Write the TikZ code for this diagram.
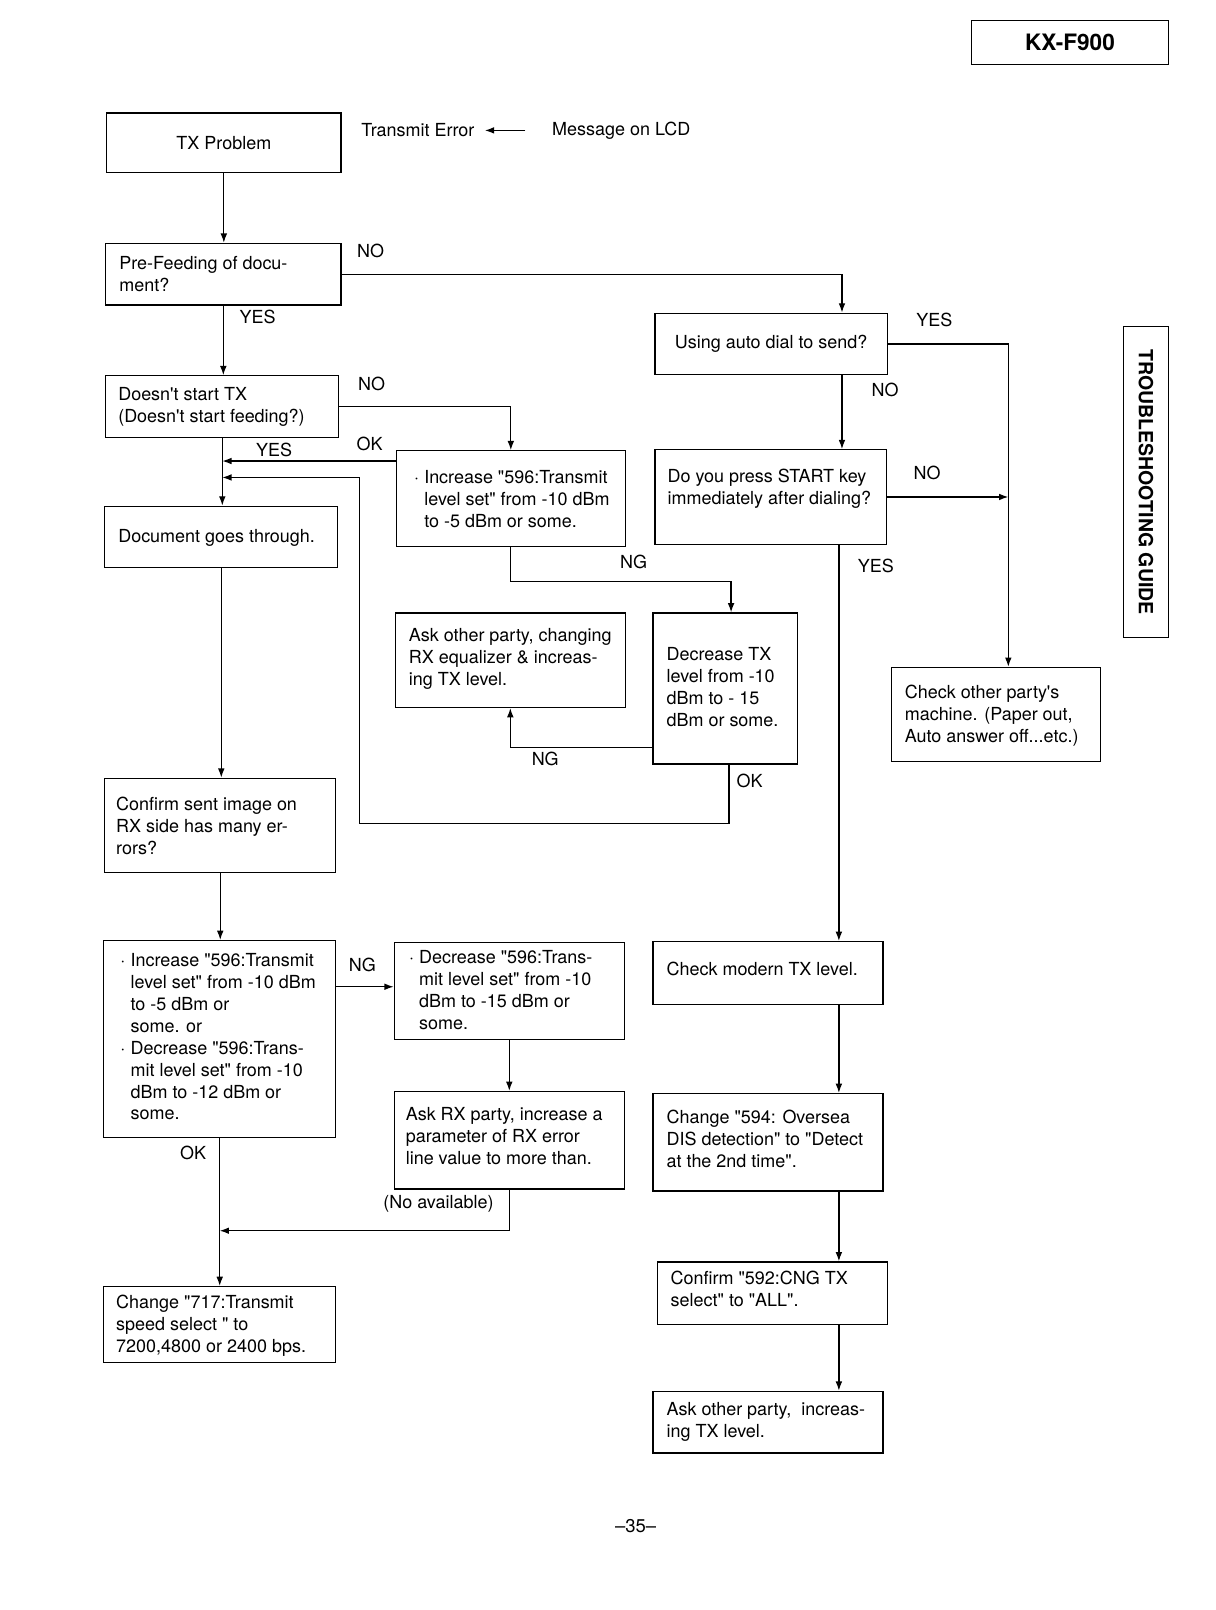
\documentclass[tikz,border=0pt]{standalone}
\usepackage{fontspec}
\setmainfont{TeX Gyre Heros}[Ligatures=TeXOff]
\usetikzlibrary{arrows.meta,calc}
\tikzset{
  box/.style={draw, line width=1.2pt, inner sep=0pt, font=\fontsize{17.5}{21.4}\selectfont},
  txt/.style={font=\fontsize{17.5}{21.4}\selectfont, align=left, inner sep=0pt, anchor=north west},
  lbl/.style={font=\fontsize{17.5}{21.4}\selectfont, inner sep=0pt},
  arr/.style={line width=1.2pt, -{Latex[length=9pt,width=6.5pt]}},
}
\begin{document}
\begin{tikzpicture}[x=1pt,y=-1pt]
\useasboundingbox (0,0) rectangle (1184,1568);
\fill[white] (0,0) rectangle (1184,1568);

% header
\node[box, minimum width=192pt, minimum height=43pt, font=\fontsize{22}{26}\selectfont\bfseries] (kx) at (1042,41.5) {KX-F900};
\node[box, minimum width=303pt, minimum height=44pt, rotate=-90, font=\fontsize{19}{22}\selectfont\bfseries] (tsg) at (1116,469.5) {TROUBLESHOOTING GUIDE};
\node[lbl] (te) at (407,127) {Transmit Error};
\node[lbl] (msg) at (605,127) {Message on LCD};
\draw[arr, shorten <=26pt, shorten >=10pt] (msg.west) -- (te.east);

% left column
\node[box, minimum width=228pt, minimum height=58pt] (txp) at (218,139) {TX Problem};
\node[box, minimum width=229pt, minimum height=60pt] (pre) at (217.5,267) {};
\node[txt] (pret) at (116,249) {Pre-Feeding of docu-\\ment?};
\node[box, minimum width=227pt, minimum height=60pt] (dst) at (216.5,396) {};
\node[txt] (dstt) at (115,377) {Doesn't start TX\\(Doesn't start feeding?)};
\node[box, minimum width=223pt, minimum height=93pt] (inc1) at (497.5,485.5) {};
\node[txt] (inc1t) at (413,458) {\llap{·\hspace{5pt}}Increase "596:Transmit\\level set" from -10 dBm\\to -5 dBm or some.};
\node[box, minimum width=227pt, minimum height=60pt] (doc) at (215.5,523) {};
\node[txt] (doct) at (115,515) {Document goes through.};
\node[box, minimum width=224pt, minimum height=92pt] (ask1) at (497,643) {};
\node[txt] (ask1t) at (398,612) {Ask other party, changing\\RX equalizer \& increas-\\ing TX level.};
\node[box, minimum width=141pt, minimum height=147pt] (dec1) at (706.5,670.5) {};
\node[txt] (dec1t) at (649,630) {Decrease TX\\level from -10\\dBm to - 15\\dBm or some.};
\node[box, minimum width=225pt, minimum height=92pt] (conf) at (214.5,804) {};
\node[txt] (conft) at (113,776) {Confirm sent image on\\RX side has many er-\\rors?};
\node[box, minimum width=226pt, minimum height=192pt] (inc2) at (214,1012) {};
\node[txt] (inc2t) at (127,928) {\llap{·\hspace{5pt}}Increase "596:Transmit\\level set" from -10 dBm\\to -5 dBm or\\some. or\\\llap{·\hspace{5pt}}Decrease "596:Trans-\\mit level set" from -10\\dBm to -12 dBm or\\some.};
\node[box, minimum width=224pt, minimum height=94pt] (dec2) at (496,965) {};
\node[txt] (dec2t) at (408,925) {\llap{·\hspace{5pt}}Decrease "596:Trans-\\mit level set" from -10\\dBm to -15 dBm or\\some.};
\node[box, minimum width=224pt, minimum height=95pt] (askrx) at (496,1110.5) {};
\node[txt] (askrxt) at (395,1078) {Ask RX party, increase a\\parameter of RX error\\line value to more than.};
\node[box, minimum width=226pt, minimum height=74pt] (ch717) at (214,1290) {};
\node[txt] (ch717t) at (113,1261) {Change "717:Transmit\\speed select " to\\7200,4800 or 2400 bps.};

% right column
\node[box, minimum width=226pt, minimum height=60pt] (auto) at (751,335) {Using auto dial to send?};
\node[box, minimum width=225pt, minimum height=92pt] (press) at (750.5,484) {};
\node[txt] (presst) at (650,457) {Do you press START key\\immediately after dialing?};
\node[box, minimum width=204pt, minimum height=92pt] (chk) at (970,696) {};
\node[txt] (chkt) at (881,667) {Check other party's\\machine. (Paper out,\\Auto answer off...etc.)};
\node[box, minimum width=224pt, minimum height=61pt] (modern) at (748,947.5) {};
\node[txt] (modernt) at (649,937) {Check modern TX level.};
\node[box, minimum width=224pt, minimum height=95pt] (ch594) at (748,1112.5) {};
\node[txt] (ch594t) at (649,1081) {Change "594: Oversea\\DIS detection" to "Detect\\at the 2nd time".};
\node[box, minimum width=224pt, minimum height=61pt] (c592) at (752,1259.5) {};
\node[txt] (c592t) at (653,1238) {Confirm "592:CNG TX\\select" to "ALL".};
\node[box, minimum width=224pt, minimum height=60pt] (ask2) at (748,1385) {};
\node[txt] (ask2t) at (649,1366) {Ask other party,\ \ increas-\\ing TX level.};

% labels
\node[lbl] (l1) at (361,244) {NO};
\node[lbl] (l2) at (251,309) {YES};
\node[lbl] (l3) at (362,374) {NO};
\node[lbl] (l4) at (360,432) {OK};
\node[lbl] (l5) at (267,438) {YES};
\node[lbl] (l6) at (617,547) {NG};
\node[lbl] (l7) at (531,739) {NG};
\node[lbl] (l8) at (730,761) {OK};
\node[lbl] (l9) at (353,940) {NG};
\node[lbl] (l10) at (427,1172) {(No available)};
\node[lbl] (l11) at (188,1123) {OK};
\node[lbl] (l12) at (910,312) {YES};
\node[lbl] (l13) at (862,380) {NO};
\node[lbl] (l14) at (903,461) {NO};
\node[lbl] (l15) at (853,551) {YES};
\node[lbl, font=\fontsize{18}{20}\selectfont] (pg) at (619,1486) {–35–};

% connectors left
\draw[arr] (txp.south) -- (txp.south |- pre.north);
\coordinate (autoin) at ([xshift=69pt]auto.north);
\draw[arr] (pre.east) -| (autoin);
\draw[arr] (pre.south) -- (pre.south |- dst.north);
\draw[arr] (dst.east) -| (inc1.north);
\coordinate (okin) at ([yshift=36.5pt]inc1.west);
\draw[arr] (okin) -- (okin -| dst.south);
\draw[arr] (dst.south) -- (dst.south |- doc.north);
\coordinate (okd) at ([xshift=3.5pt]dec1.south);
\coordinate (loop) at (350,802);
\coordinate (loopin) at (350,465);
\draw[arr] (okd) |- (loop) -- (loopin) -- (loopin -| dst.south);
\draw[arr] (doc.south) -- (doc.south |- conf.north);
\coordinate (decin) at ([xshift=5.5pt]dec1.north);
\draw[arr] (inc1.south) -- ++(0,34) -| (decin);
\coordinate (ngd) at ([yshift=-57.5pt]dec1.west);
\draw[arr] (ngd) -| (ask1.south);
\draw[arr] (conf.south) -- (conf.south |- inc2.north);
\coordinate (ng2) at ([yshift=51pt]inc2.east);
\draw[arr] (ng2) -- (ng2 -| dec2.west);
\draw[arr] (dec2.south) -- (dec2.south |- askrx.north);
\coordinate (na) at ([yshift=-90pt]inc2.south);
\draw[arr] (askrx.south) |- (na);
\draw[arr] (inc2.south) -- (inc2.south |- ch717.north);

% connectors right
\coordinate (chkin) at ([xshift=12pt]chk.north);
\draw[arr] (auto.east) -| (chkin);
\coordinate (autos) at ([xshift=69pt]auto.south);
\draw[arr] (autos) -- (autos |- press.north);
\draw[arr] (press.east) -- (press.east -| chkin);
\coordinate (R) at (817,0);
\draw[arr] (press.south -| R) -- (modern.north -| R);
\draw[arr] (modern.south -| R) -- (ch594.north -| R);
\draw[arr] (ch594.south -| R) -- (c592.north -| R);
\draw[arr] (c592.south -| R) -- (ask2.north -| R);
\end{tikzpicture}
\end{document}
